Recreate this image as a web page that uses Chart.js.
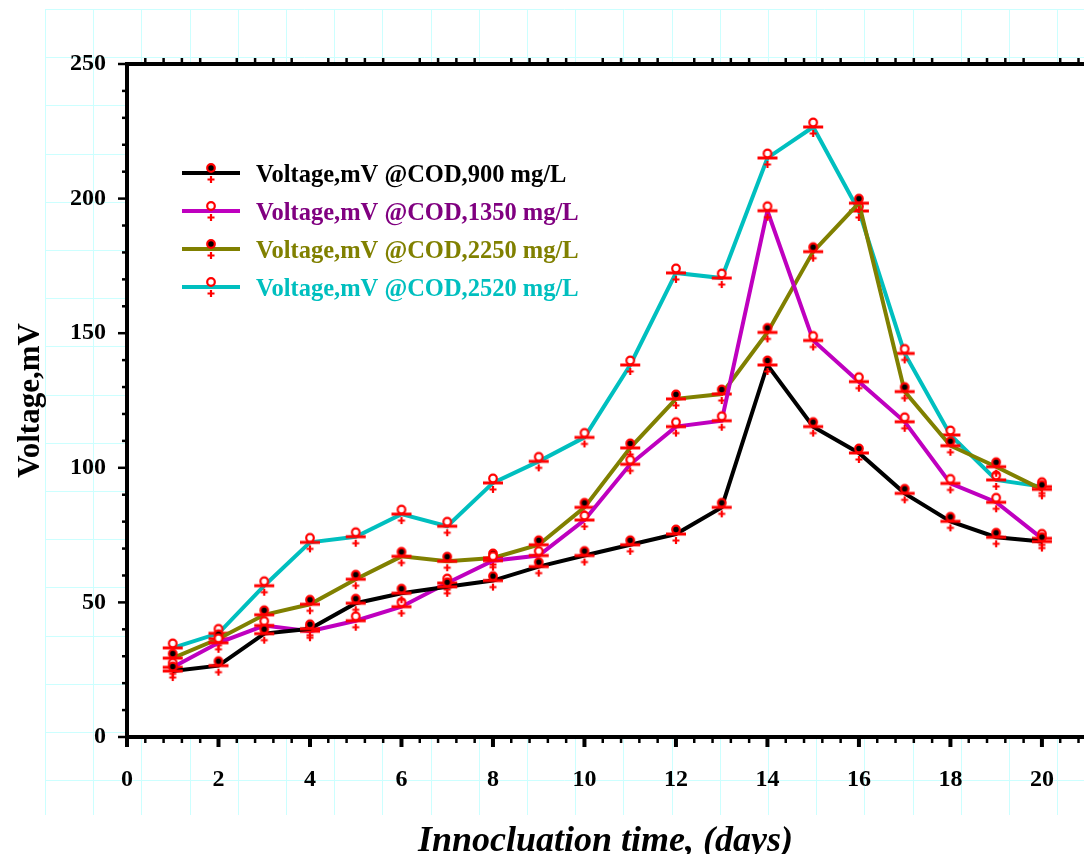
<!DOCTYPE html>
<html><head><meta charset="utf-8">
<script src="https://cdn.jsdelivr.net/npm/chart.js@4.4.1/dist/chart.umd.min.js"></script>
<style>html,body{margin:0;padding:0;background:#fff;overflow:hidden}#wrap{width:1084px;height:854px}</style>
</head><body><div id="wrap"><canvas id="c" width="1084" height="854"></canvas></div>
<script>
const days = [1,2,3,4,5,6,7,8,9,10,11,12,13,14,15,16,17,18,19,20];
const cod900  = [24.5,26.5,38.4,40.2,49.7,53.4,55.8,58.1,63.3,67.4,71.4,75.4,85.3,138.2,115.3,105.5,90.5,80.1,74.2,72.6];
const cod1350 = [25.9,35.0,41.4,39.3,43.2,48.4,57.2,65.5,67.4,80.6,101.3,115.3,117.5,195.5,147.3,132.0,117.1,94.2,87.2,73.8];
const cod2250 = [29.3,36.5,45.4,49.3,58.6,67.1,65.3,66.5,71.4,85.3,107.4,125.6,127.4,150.3,180.3,198.3,128.3,108.2,100.4,92.0];
const cod2520 = [33.1,38.5,56.2,72.3,74.4,82.8,78.3,94.4,102.4,111.3,138.2,172.4,170.5,215.1,226.6,195.4,142.5,112.2,95.5,93.0];
const seriesLabels = ['Voltage,mV @COD,900 mg/L','Voltage,mV @COD,1350 mg/L','Voltage,mV @COD,2250 mg/L','Voltage,mV @COD,2520 mg/L'];
const xTickLabels = [0,2,4,6,8,10,12,14,16,18,20];
const yTickLabels = [0,50,100,150,200,250];
const xTitle = 'Innocluation time, (days)';
const yTitle = 'Voltage,mV';

const lineColors = ['#000000','#BF00BF','#808000','#00BFBF'];
const textColors = ['#000000','#800080','#808000','#00BFBF'];
const markerFills = ['#000000','#FFFFFF','#000000','#FFFFFF'];
const RED = '#FF0000';

function makeMarker(fill){
  const c = document.createElement('canvas');
  c.width = 24; c.height = 30;
  const g = c.getContext('2d');
  const cx = 12, cy = 15;
  g.strokeStyle = RED; g.lineCap = 'butt';
  g.lineWidth = 3;
  g.beginPath(); g.moveTo(cx-10, cy); g.lineTo(cx+10, cy); g.stroke();
  g.lineWidth = 2.2;
  g.beginPath(); g.moveTo(cx-3.5, cy+6.5); g.lineTo(cx+3.5, cy+6.5);
  g.moveTo(cx, cy+3); g.lineTo(cx, cy+10); g.stroke();
  g.fillStyle = fill; g.lineWidth = 2.2;
  g.beginPath(); g.arc(cx, cy-4.5, 3.8, 0, Math.PI*2); g.fill(); g.stroke();
  return c;
}
const markers = markerFills.map(makeMarker);

const allSeries = [cod900, cod1350, cod2250, cod2520];
const datasets = allSeries.map((arr, i) => ({
  label: seriesLabels[i],
  data: days.map((d, k) => ({x: d, y: arr[k]})),
  borderColor: lineColors[i],
  backgroundColor: lineColors[i],
  borderWidth: 4,
  tension: 0,
  pointStyle: markers[i],
  pointRadius: 6,
  pointHoverRadius: 6
}));

const SERIF = '"Liberation Serif", "Times New Roman", serif';

const bgPlugin = {
  id: 'bg',
  beforeDraw(chart){
    const ctx = chart.ctx, a = chart.chartArea;
    ctx.save();
    ctx.fillStyle = '#fff';
    ctx.fillRect(0,0,chart.width,chart.height);
    ctx.strokeStyle = '#CCFFFF';
    ctx.lineWidth = 1;
    const step = 48.2, x0 = 45, y0 = 9, yEnd = 815;
    ctx.beginPath();
    for (let x = x0; x <= chart.width + 1; x += step){
      ctx.moveTo(Math.round(x)+0.5, y0); ctx.lineTo(Math.round(x)+0.5, yEnd);
    }
    for (let y = y0; y <= yEnd + 1; y += step){
      ctx.moveTo(x0, Math.round(y)+0.5); ctx.lineTo(chart.width, Math.round(y)+0.5);
    }
    ctx.stroke();
    ctx.fillStyle = '#fff';
    ctx.fillRect(a.left, a.top, chart.width - a.left, a.bottom - a.top);
    ctx.restore();
  },
  afterDraw(chart){
    const ctx = chart.ctx, a = chart.chartArea;
    const xs = chart.scales.x, ys = chart.scales.y;
    ctx.save();
    ctx.strokeStyle = '#000';
    ctx.lineCap = 'butt';
    ctx.lineWidth = 4;
    ctx.beginPath();
    ctx.moveTo(a.left, a.top - 2); ctx.lineTo(a.left, a.bottom + 4);
    ctx.moveTo(a.left - 2, a.top); ctx.lineTo(chart.width, a.top);
    ctx.moveTo(a.left - 2, a.bottom); ctx.lineTo(chart.width, a.bottom);
    ctx.stroke();
    for (let v = 0; v <= 250; v += 10){
      const y = ys.getPixelForValue(v);
      const major = v % 50 === 0;
      ctx.lineWidth = 2.5;
      ctx.beginPath();
      ctx.moveTo(a.left - 2, y); ctx.lineTo(a.left - (major ? 9 : 5), y);
      ctx.stroke();
    }
    for (let k = 0; k <= 60; k++){
      const v = k * 0.4;
      const x = xs.getPixelForValue(v);
      if (x > chart.width + 2) break;
      const major = k % 5 === 0;
      ctx.lineWidth = major ? 4 : 2.5;
      ctx.beginPath();
      ctx.moveTo(x, a.bottom + 2); ctx.lineTo(x, a.bottom + (major ? 10 : 6));
      ctx.stroke();
      if (!major){
        ctx.lineWidth = 2.5;
        ctx.beginPath();
        ctx.moveTo(x, a.top - 2); ctx.lineTo(x, a.top - 6);
        ctx.stroke();
      }
    }
    ctx.restore();
  },
  afterDatasetsDraw(chart){
    const ctx = chart.ctx;
    const rows = [173, 211, 249, 287];
    ctx.save();
    rows.forEach((ry, i) => {
      ctx.strokeStyle = lineColors[i];
      ctx.lineWidth = 4;
      ctx.beginPath(); ctx.moveTo(182, ry); ctx.lineTo(240, ry); ctx.stroke();
      const mx = 211;
      ctx.strokeStyle = RED; ctx.lineWidth = 2.2;
      ctx.beginPath(); ctx.moveTo(mx-3.5, ry+6.5); ctx.lineTo(mx+3.5, ry+6.5);
      ctx.moveTo(mx, ry+3); ctx.lineTo(mx, ry+10); ctx.stroke();
      ctx.fillStyle = markerFills[i];
      ctx.beginPath(); ctx.arc(mx, ry-5, 3.8, 0, Math.PI*2); ctx.fill(); ctx.stroke();
      ctx.fillStyle = textColors[i];
      ctx.font = 'bold 24.5px ' + SERIF;
      ctx.textBaseline = 'alphabetic';
      ctx.textAlign = 'left';
      ctx.fillText(seriesLabels[i], 256, ry + 9);
    });
    ctx.restore();
  }
};

new Chart(document.getElementById('c'), {
  type: 'line',
  data: { datasets },
  plugins: [bgPlugin],
  options: {
    responsive: false,
    animation: false,
    layout: { autoPadding: false, padding: { top: 64, right: 0, bottom: 0, left: 0 } },
    plugins: { legend: { display: false }, tooltip: { enabled: false } },
    scales: {
      x: {
        type: 'linear', min: 0, max: 20.92,
        afterBuildTicks: s => { s.ticks = xTickLabels.map(v => ({value: v})); },
        afterFit: s => { s.height = 117; s.paddingRight = 0; s.paddingLeft = 0; },
        grid: { display: false, drawTicks: false },
        border: { display: false },
        ticks: { color: '#000', font: { family: SERIF, size: 24, weight: 'bold' }, padding: 28, maxRotation: 0, autoSkip: false, callback: v => String(v) },
        title: { display: true, text: xTitle, color: '#000', font: { family: SERIF, size: 36, weight: 'bold', style: 'italic', lineHeight: 0.7 }, padding: { top: 0, bottom: 0 } }
      },
      y: {
        min: 0, max: 250,
        afterBuildTicks: s => { s.ticks = yTickLabels.map(v => ({value: v})); },
        afterFit: s => { s.width = 127; },
        grid: { display: false, drawTicks: false },
        border: { display: false },
        ticks: { color: '#000', font: { family: SERIF, size: 24, weight: 'bold' }, padding: 21, callback: v => String(v) },
        title: { display: true, text: yTitle, color: '#000', font: { family: SERIF, size: 31, weight: 'bold' }, padding: { top: 12, bottom: 0 } }
      }
    }
  }
});
</script></body></html>
